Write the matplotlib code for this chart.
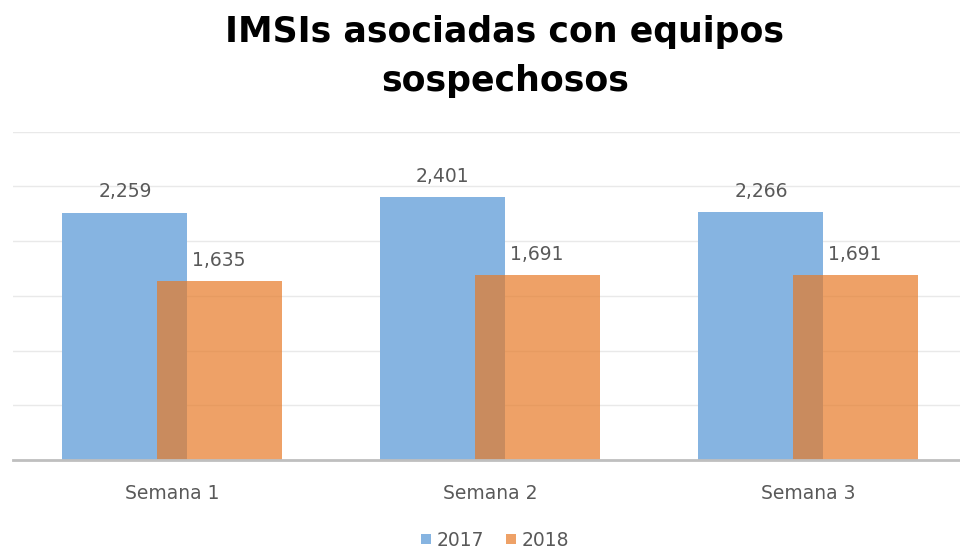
import matplotlib
matplotlib.use("Agg")
import matplotlib.pyplot as plt
from matplotlib.patches import Patch
import numpy as np

categories = ["Semana 1", "Semana 2", "Semana 3"]
series_names = ["2017", "2018"]
values_2017 = [2259, 2401, 2266]
values_2018 = [1635, 1691, 1691]
title_lines = ["IMSIs asociadas con equipos", "sospechosos"]

W, H = 960, 552
fig = plt.figure(figsize=(W / 100, H / 100), dpi=100)
fig.patch.set_facecolor("white")

ax = fig.add_axes([13 / W, (H - 460) / H, 947 / W, (460 - 131.7) / H])

blue = "#86B4E1"
orange_solid = (231 / 255, 122 / 255, 39 / 255)
label_font = "DejaVu Sans"
label_size = 13.5
label_color = "#595959"
x = np.arange(len(categories))
width = 0.393
off = 0.148

ax.bar(x - off, values_2017, width, color=blue, zorder=2)
ax.bar(x + off, values_2018, width, color=orange_solid, alpha=0.7, zorder=3, linewidth=0)

for xi, v in zip(x - off, values_2017):
    ax.annotate(f"{v:,}", (xi, v), xytext=(0, 15), textcoords="offset points",
                ha="center", va="center", fontsize=label_size, color=label_color, family=label_font)
for xi, v in zip(x + off, values_2018):
    ax.annotate(f"{v:,}", (xi, v), xytext=(0, 15), textcoords="offset points",
                ha="center", va="center", fontsize=label_size, color=label_color, family=label_font)

ax.set_xlim(-0.5, -0.5 + 947 / 318)
ax.set_ylim(0, 3000)
ax.set_yticks(np.arange(0, 3001, 500))
ax.yaxis.grid(True, color="#E9E9E9", linewidth=1, zorder=0)
ax.set_axisbelow(True)
ax.tick_params(axis="y", left=False, labelleft=False)
ax.set_xticks(x)
ax.set_xticklabels(categories, fontsize=label_size, color=label_color, family=label_font)
ax.tick_params(axis="x", bottom=False, pad=14)
for s in ["left", "right", "top"]:
    ax.spines[s].set_visible(False)
ax.spines["bottom"].set_color("#BFBFBF")
ax.spines["bottom"].set_linewidth(2)
ax.spines["bottom"].set_zorder(4)

baselines = [42, 91]
for line, yb in zip(title_lines, baselines):
    fig.text(505 / W, 1 - yb / H, line, ha="center", va="baseline", fontsize=25,
             fontweight="bold", family="DejaVu Sans", color="black")

handles = [Patch(facecolor=blue, edgecolor="none"),
           Patch(facecolor=orange_solid, alpha=0.7, edgecolor="none")]
fig.legend(handles, series_names, loc="center", bbox_to_anchor=(495 / W, 1 - 540 / H),
           ncol=2, frameon=False, handlelength=0.5, handleheight=0.5,
           handletextpad=0.3, columnspacing=1.2,
           prop={"family": label_font, "size": label_size}, labelcolor=label_color)

fig.savefig("out.png", dpi=100)
